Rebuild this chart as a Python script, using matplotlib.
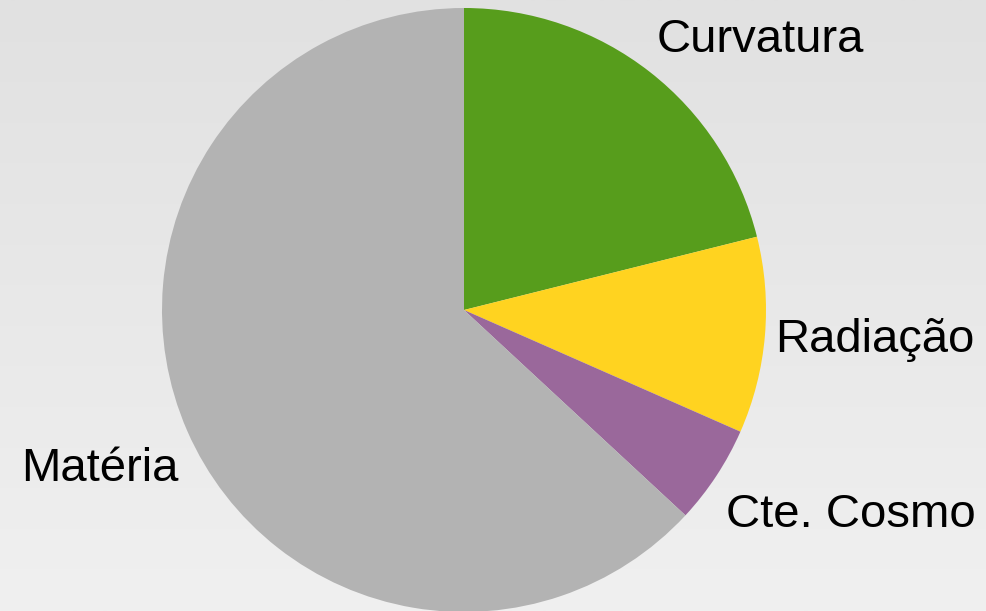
import numpy as np
import matplotlib.pyplot as plt

# Share of each component
labels = ['Curvatura', 'Radiação', 'Cte. Cosmo', 'Matéria']
shares = [21.1, 10.5, 5.3, 63.1]
colors = ['#579d1c', '#ffd320', '#9a689b', '#b3b3b3']

plt.rcParams['font.family'] = ['Liberation Sans', 'DejaVu Sans']

fig = plt.figure(figsize=(9.86, 6.11), dpi=100)

# soft vertical gradient behind everything
bg = fig.add_axes([0, 0, 1, 1], zorder=0)
grad = np.linspace(225, 240, 256).reshape(-1, 1) / 255.0
bg.imshow(np.dstack([grad, grad, grad]), aspect='auto', extent=[0, 1, 0, 1], origin='upper')
bg.axis('off')

ax = fig.add_axes([0, 0, 1, 1], zorder=1)
ax.patch.set_alpha(0)
ax.pie(shares, colors=colors, startangle=90, counterclock=False,
       radius=1, wedgeprops={'linewidth': 0})
ax.set_aspect('auto')
ax.set_xlim(-464 / 302, (986 - 464) / 302)
ax.set_ylim((310 - 611) / 302, 310 / 302)
ax.axis('off')

# label positions (left edge, baseline)
label_pos = [(0.639, 0.854), (1.030, -0.139), (0.869, -0.719), (-1.467, -0.566)]
for name, (x, y) in zip(labels, label_pos):
    ax.text(x, y, name, fontsize=34, ha='left', va='baseline', color='black')

fig.savefig('out.png', dpi=100)
